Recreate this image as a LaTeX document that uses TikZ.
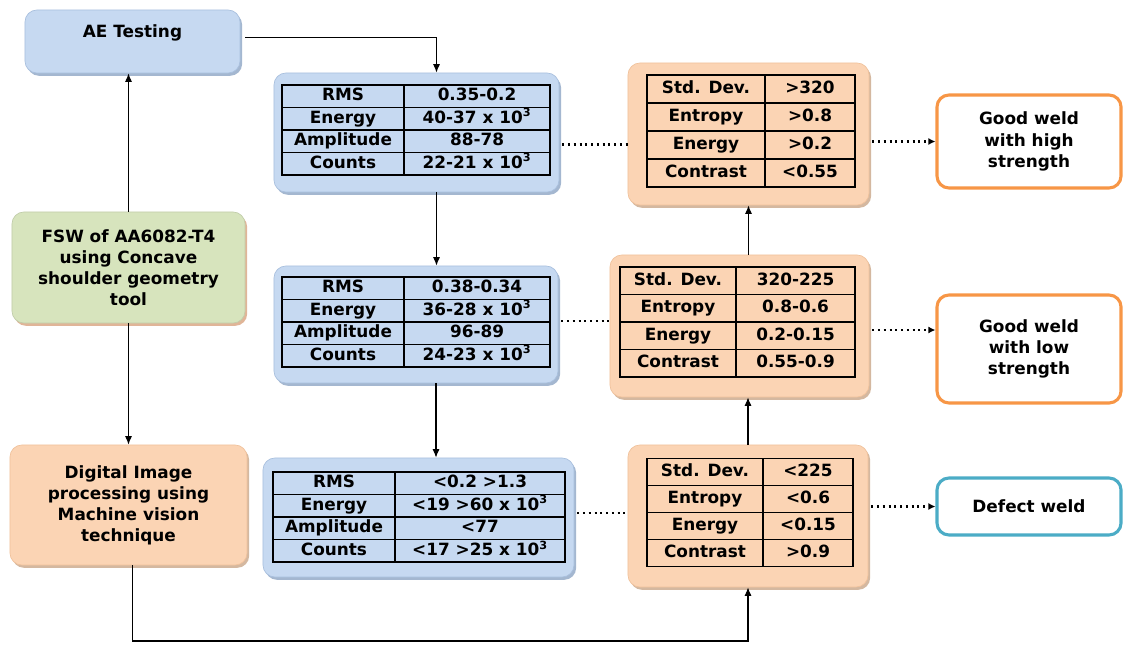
\documentclass[tikz,border=0pt]{standalone}
\usepackage{fontspec}
\setmainfont{DejaVu Sans}
\usetikzlibrary{arrows.meta,matrix,shadows}
\definecolor{aeblue}{HTML}{C6D9F1}
\definecolor{aeline}{HTML}{A9C0DE}
\definecolor{aeshade}{HTML}{8DA5C4}
\definecolor{imgorange}{HTML}{FBD4B4}
\definecolor{imgline}{HTML}{F0C29C}
\definecolor{imgshade}{HTML}{C9A688}
\definecolor{fswgreen}{HTML}{D7E4BD}
\definecolor{fswshade}{HTML}{D8A27E}
\definecolor{goodorange}{HTML}{F79646}
\definecolor{defectblue}{HTML}{4BACC6}

\begin{document}
\begin{tikzpicture}[x=0.025cm, y=-0.025cm]
	\tikzset{txt/.style = {font=\bfseries\fontsize{12}{15}\selectfont}}
	\tikzset{panel/.style = {txt, rounded corners=0.3cm, inner sep=0pt, align=center, line width=0.5pt}}
	\tikzset{bluepanel/.style = {panel, fill=aeblue, draw=aeline, drop shadow={shadow xshift=1.5pt, shadow yshift=-2pt, fill=aeshade, opacity=0.8}}}
	\tikzset{orangepanel/.style = {panel, fill=imgorange, draw=imgline, drop shadow={shadow xshift=1.5pt, shadow yshift=-2pt, fill=imgshade, opacity=0.8}}}
	\tikzset{greenpanel/.style = {panel, fill=fswgreen, draw=fswgreen!90!black, drop shadow={shadow xshift=1.5pt, shadow yshift=-2pt, fill=fswshade, opacity=0.8}}}
	\tikzset{goodbox/.style = {panel, fill=white, draw=goodorange, line width=2.2pt}}
	\tikzset{defectbox/.style = {panel, fill=white, draw=defectblue, line width=2.2pt}}
	\tikzset{cell/.style = {txt, draw, line width=0.8pt, inner sep=0pt, text height=8.8pt, text depth=2.6pt}}
	\tikzset{datagrid/.style = {matrix of nodes, nodes={cell}, column sep=-0.8pt, row sep=-0.8pt}}
	\tikzset{edge/.style = {->, > = {Latex[length=6pt, width=5pt]}, line width=0.8pt}}
	\tikzset{dotline/.style = {line width=1.5pt, dash pattern=on 1.5pt off 2.6pt, > = {Latex[length=5pt, width=5pt]}, shorten <=2pt}}
	\useasboundingbox (0,0) rectangle (1123,644);
	\node[bluepanel, minimum width=5.375cm, text height=0.7cm, text depth=0.875cm] (ae) at (132.5,41.5) {AE Testing};
	\node[greenpanel, minimum width=5.825cm, minimum height=2.775cm] (fsw) at (128.5,267.5) {FSW of AA6082-T4\\using Concave\\shoulder geometry\\tool};
	\node[orangepanel, minimum width=5.925cm, minimum height=3cm] (dip) at (128.5,505) {Digital Image\\processing using\\Machine vision\\technique};
	\node[bluepanel, minimum width=7.125cm, minimum height=2.975cm] (ae1) at (416.5,132.5) {};
	\node[bluepanel, minimum width=7.1cm, minimum height=2.925cm] (ae2) at (416,324.5) {};
	\node[bluepanel, minimum width=7.775cm, minimum height=2.975cm] (ae3) at (418.5,517.5) {};
	\matrix (aetab1) [datagrid, nodes={minimum height=0.5625cm}, column 1/.style={nodes={minimum width=3.05cm}}, column 2/.style={nodes={minimum width=3.65cm}}] at (416,130) {
		RMS & 0.35-0.2 \\
		Energy & 40-37 x 10\textsuperscript{3} \\
		Amplitude & 88-78 \\
		Counts & 22-21 x 10\textsuperscript{3} \\
	};
	\matrix (aetab2) [datagrid, nodes={minimum height=0.5625cm}, column 1/.style={nodes={minimum width=3.05cm}}, column 2/.style={nodes={minimum width=3.65cm}}] at (416,322) {
		RMS & 0.38-0.34 \\
		Energy & 36-28 x 10\textsuperscript{3} \\
		Amplitude & 96-89 \\
		Counts & 24-23 x 10\textsuperscript{3} \\
	};
	\matrix (aetab3) [datagrid, nodes={minimum height=0.5625cm}, column 1/.style={nodes={minimum width=3.05cm}}, column 2/.style={nodes={minimum width=4.25cm}}] at (419,517) {
		RMS & <0.2 >1.3 \\
		Energy & <19 >60 x 10\textsuperscript{3} \\
		Amplitude & <77 \\
		Counts & <17 >25 x 10\textsuperscript{3} \\
	};
	\node[orangepanel, minimum width=6.025cm, minimum height=3.55cm] (img1) at (748.5,134) {};
	\node[orangepanel, minimum width=6.475cm, minimum height=3.55cm] (img2) at (739.5,326) {};
	\node[orangepanel, minimum width=6cm, minimum height=3.55cm] (img3) at (748,516) {};
	\matrix (imgtab1) [datagrid, nodes={minimum height=0.7cm}, column 1/.style={nodes={minimum width=2.95cm}}, column 2/.style={nodes={minimum width=2.25cm}}] at (751,131) {
		Std. Dev. & >320 \\
		Entropy & >0.8 \\
		Energy & >0.2 \\
		Contrast & <0.55 \\
	};
	\matrix (imgtab2) [datagrid, nodes={minimum height=0.6875cm}, column 1/.style={nodes={minimum width=2.9cm}}, column 2/.style={nodes={minimum width=2.975cm}}] at (737.5,322) {
		Std. Dev. & 320-225 \\
		Entropy & 0.8-0.6 \\
		Energy & 0.2-0.15 \\
		Contrast & 0.55-0.9 \\
	};
	\matrix (imgtab3) [datagrid, nodes={minimum height=0.68cm}, column 1/.style={nodes={minimum width=2.9cm}}, column 2/.style={nodes={minimum width=2.25cm}}] at (750,512.5) {
		Std. Dev. & <225 \\
		Entropy & <0.6 \\
		Energy & <0.15 \\
		Contrast & >0.9 \\
	};
	\node[goodbox, minimum width=4.6cm, minimum height=2.325cm] (high) at (1029,141.5) {Good weld\\with high\\strength};
	\node[goodbox, minimum width=4.6cm, minimum height=2.7cm] (low) at (1029,349) {Good weld\\with low\\strength};
	\node[defectbox, minimum width=4.6cm, minimum height=1.425cm] (defect) at (1029,506.5) {Defect weld};
	\coordinate (floor) at (0,641);
	\coordinate (dot1) at ([yshift=-0.3cm]ae1.east);
	\coordinate (dot2) at ([yshift=0.09cm]ae2.east);
	\coordinate (dot3) at ([yshift=0.11cm]ae3.east);
	\coordinate (dot4) at ([yshift=-0.1cm]img2.east);
	\draw[edge] (fsw.north) -- (fsw.north |- ae.south);
	\draw[edge] (fsw.south) -- (fsw.south |- dip.north);
	\draw[edge, shorten <=0.125cm] ([yshift=0.11cm]ae.east) -| ([xshift=0.5cm]ae1.north);
	\draw[edge] ([xshift=0.5cm]ae1.south) -- ([xshift=0.5cm]ae1.south |- ae2.north);
	\draw[edge] ([xshift=0.5cm]ae2.south) -- ([xshift=0.5cm]ae2.south |- ae3.north);
	\draw[edge] ([xshift=0.1cm]dip.south) -- ([xshift=0.1cm]dip.south |- floor) -| (img3.south);
	\draw[edge] (img3.north) -- (img3.north |- img2.south);
	\draw[edge] (img1.south |- img2.north) -- (img1.south);
	\draw[dotline] (dot1) -- (dot1 -| img1.west);
	\draw[dotline] (dot2) -- (dot2 -| img2.west);
	\draw[dotline] (dot3) -- (dot3 -| img3.west);
	\draw[dotline, ->] (img1.east |- high.west) -- (high.west);
	\draw[dotline, ->] (dot4) -- (dot4 -| low.west);
	\draw[dotline, ->] (img3.east |- defect.west) -- (defect.west);
\end{tikzpicture}
\end{document}
